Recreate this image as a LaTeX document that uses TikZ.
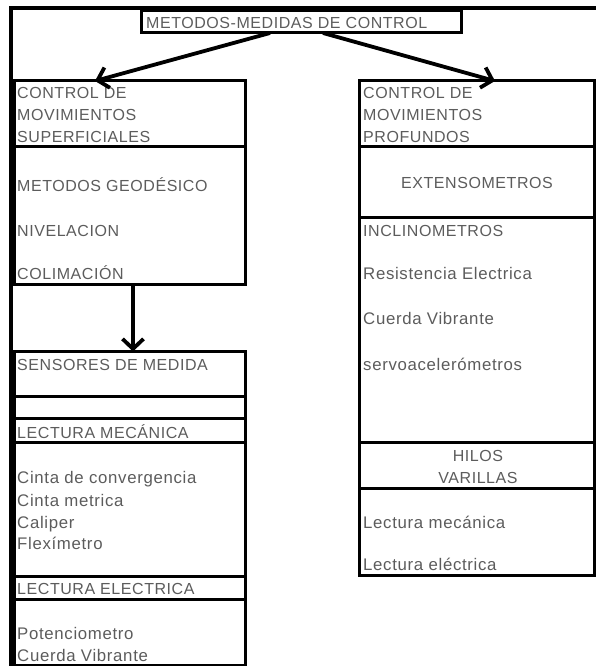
\documentclass[tikz,border=0pt]{standalone}
\usepackage{fontspec}
\setmainfont{Liberation Sans}[LetterSpace=3.5]
\newfontfamily\mixfont{Liberation Sans}[LetterSpace=4.0]
\usetikzlibrary{arrows.meta}
\definecolor{txtgray}{RGB}{92,92,92}
\begin{document}
\begin{tikzpicture}[x=1pt,y=-1pt,
  box/.style={draw=black, line width=3pt, rectangle, inner sep=0pt, outer sep=0pt, anchor=north west},
  lbl/.style={anchor=base west, inner sep=0pt, text=txtgray, font=\fontsize{16pt}{22pt}\selectfont},
  mlbl/.style={lbl, font=\mixfont\fontsize{16.8pt}{22pt}\selectfont},
  clbl/.style={lbl, anchor=base},
  flow/.style={line width=3.8pt, -{Straight Barb[length=10pt,width=21pt]}}]
\useasboundingbox (0,0) rectangle (596,666);

% outer frame (top and left edges)
\coordinate (frameTR) at (596,8.5);
\coordinate (frameTL) at (10.5,8.5);
\coordinate (frameBL) at (10.5,666);
\draw[line width=4pt] (frameTR) -- (frameTL) -- (frameBL);

% title
\node[box, minimum width=319.5pt, minimum height=22pt] (title) at (141.5,11) {};
\node[lbl] (titletxt) at (146,28.3) {METODOS-MEDIDAS DE CONTROL};

% left column: surface movements
\node[box, minimum width=231pt, minimum height=65.5pt] (sup1) at (14,81) {};
\node[box, minimum width=231pt, minimum height=138pt] (sup2) at (14,146.5) {};
\node[box, minimum width=231pt, minimum height=45pt] (sens) at (14,351.5) {};
\node[box, minimum width=231pt, minimum height=22pt] (blank) at (14,396.5) {};
\node[box, minimum width=231pt, minimum height=24pt] (mech) at (14,418.5) {};
\node[box, minimum width=231pt, minimum height=134pt] (mechlist) at (14,442.5) {};
\node[box, minimum width=231pt, minimum height=23pt] (elec) at (14,576.5) {};
\node[box, minimum width=231pt, minimum height=65.5pt] (eleclist) at (14,599.5) {};

\node[lbl] (s1) at (17,98.3) {CONTROL DE};
\node[lbl] (s2) at (17,120.5) {MOVIMIENTOS};
\node[lbl] (s3) at (17,142.7) {SUPERFICIALES};
\node[lbl] (s4) at (17,191.7) {METODOS GEODÉSICO};
\node[lbl] (s5) at (17,236.7) {NIVELACION};
\node[lbl] (s6) at (17,279.3) {COLIMACIÓN};
\node[lbl] (s7) at (17,370.7) {SENSORES DE MEDIDA};
\node[lbl] (s8) at (17,438.3) {LECTURA MECÁNICA};
\node[mlbl] (s9) at (17,483.3) {Cinta de convergencia};
\node[mlbl] (s10) at (17,506) {Cinta metrica};
\node[mlbl] (s11) at (17,528.3) {Caliper};
\node[mlbl] (s12) at (17,549.3) {Flexímetro};
\node[lbl] (s13) at (17,594.3) {LECTURA ELECTRICA};
\node[mlbl] (s14) at (17,639.3) {Potenciometro};
\node[mlbl] (s15) at (17,661) {Cuerda Vibrante};

% right column: deep movements
\node[box, minimum width=235pt, minimum height=65.5pt] (prof1) at (359,81) {};
\node[box, minimum width=235pt, minimum height=71pt] (ext) at (359,146.5) {};
\node[box, minimum width=235pt, minimum height=225pt] (incl) at (359,217.5) {};
\node[box, minimum width=235pt, minimum height=46pt] (hilos) at (359,442.5) {};
\node[box, minimum width=235pt, minimum height=87pt] (lect) at (359,488.5) {};

\node[lbl] (p1) at (363,98.3) {CONTROL DE};
\node[lbl] (p2) at (363,120.5) {MOVIMIENTOS};
\node[lbl] (p3) at (363,142.7) {PROFUNDOS};
\node[clbl] (p4) at (477,188.3) {EXTENSOMETROS};
\node[lbl] (p5) at (363,236) {INCLINOMETROS};
\node[mlbl] (p6) at (363,279.3) {Resistencia Electrica};
\node[mlbl] (p7) at (363,324.3) {Cuerda Vibrante};
\node[mlbl] (p8) at (363,370) {servoacelerómetros};
\node[clbl] (p9) at (478,461.7) {HILOS};
\node[clbl] (p10) at (478,483.3) {VARILLAS};
\node[mlbl] (p11) at (363,528.3) {Lectura mecánica};
\node[mlbl] (p12) at (363,570) {Lectura eléctrica};

% connectors
\draw[flow] ([xshift=-31.25pt]title.south) -- ([xshift=-34.5pt]sup1.north);
\draw[flow] ([xshift=21.75pt]title.south) -- ([xshift=18.5pt]prof1.north);
\draw[flow] ([xshift=3.5pt]sup2.south) -- ([xshift=3.5pt]sens.north);
\end{tikzpicture}
\end{document}
